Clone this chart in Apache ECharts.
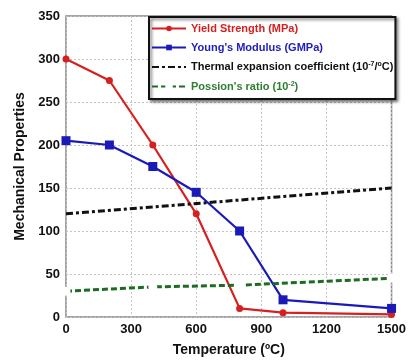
<!DOCTYPE html>
<html>
<head>
<meta charset="utf-8">
<script src="https://cdn.jsdelivr.net/npm/echarts@6/dist/echarts.min.js"></script>
<style>
  html, body { margin: 0; padding: 0; background: #fff; }
  #chart { width: 409px; height: 362px; }
</style>
</head>
<body>
<div id="chart"></div>
<script>
// Temperature (°C) at each measurement
const tempYield = [0, 200, 400, 600, 800, 1000, 1500];
const yieldStrength = [300, 275, 200, 120, 10, 5, 3];
const tempModulus = [0, 200, 400, 600, 800, 1000, 1500];
const youngsModulus = [205, 200, 175, 145, 100, 20, 10];
const tempThermal = [0, 1500];
const thermalExpansion = [120, 150];
const tempPoisson = [0, 400, 800, 1500];
const poissonRatio = [30, 35, 37, 45];

const names = [
  "Yield Strength (MPa)",
  "Young's Modulus (GMPa)",
  "Thermal expansion coefficient",
  "Possion's ratio"
];

const pairs = (xs, ys) => xs.map((x, i) => [x, ys[i]]);
const font = '"Liberation Sans", Arial, sans-serif';

const chart = echarts.init(document.getElementById('chart'), null, { renderer: 'canvas' });

chart.setOption({
  animation: false,
  textStyle: { fontFamily: font },
  grid: { left: 66, right: 10, top: 16, bottom: 40, show: true, borderColor: '#888', borderWidth: 1.5 },
  xAxis: {
    type: 'value', min: 0, max: 1500, interval: 300,
    name: 'Temperature (\u00BAC)', nameLocation: 'middle', nameGap: 26,
    nameTextStyle: { fontWeight: 'bold', fontSize: 14, color: '#111', fontFamily: font },
    axisLine: { show: false },
    axisTick: { show: false },
    axisLabel: { fontWeight: 'bold', fontSize: 13, color: '#111', margin: 6, fontFamily: font,
      formatter: v => String(v) },
    splitLine: { lineStyle: { type: [2, 2], color: '#c4c4c4', width: 1 } }
  },
  yAxis: {
    type: 'value', min: 0, max: 350, interval: 50,
    name: 'Mechanical Properties', nameLocation: 'middle', nameGap: 38,
    nameTextStyle: { fontWeight: 'bold', fontSize: 14, color: '#111', fontFamily: font },
    axisLine: { show: false },
    axisTick: { show: false },
    axisLabel: { fontWeight: 'bold', fontSize: 13, color: '#111', margin: 6, fontFamily: font,
      formatter: v => String(v) },
    splitLine: { lineStyle: { type: [2, 2], color: '#c4c4c4', width: 1 } }
  },
  legend: {
    orient: 'vertical', left: 149, top: 17,
    padding: [6, 2, 7, 2], itemGap: 8, itemWidth: 34, itemHeight: 7,
    backgroundColor: '#fff', borderColor: '#111', borderWidth: 2,
    shadowColor: 'rgba(0,0,0,0.5)', shadowBlur: 3, shadowOffsetX: 2, shadowOffsetY: 2,
    data: [
      { name: names[0] },
      { name: names[1] },
      { name: names[2], itemStyle: { color: 'rgba(0,0,0,0)', borderWidth: 0 } },
      { name: names[3], itemStyle: { color: '#fff', borderColor: '#777', borderWidth: 1.2 } }
    ],
    textStyle: {
      fontFamily: font, fontWeight: 'bold', fontSize: 11,
      rich: {
        r: { color: '#d62020', fontWeight: 'bold', fontSize: 11, fontFamily: font },
        b: { color: '#2020c0', fontWeight: 'bold', fontSize: 11, fontFamily: font },
        k: { color: '#111', fontWeight: 'bold', fontSize: 11, fontFamily: font },
        ks: { color: '#111', fontWeight: 'bold', fontSize: 7, fontFamily: font, verticalAlign: 'top', padding: [0, 0, 5, 0] },
        g: { color: '#2e7d32', fontWeight: 'bold', fontSize: 11, fontFamily: font },
        gs: { color: '#2e7d32', fontWeight: 'bold', fontSize: 7, fontFamily: font, verticalAlign: 'top', padding: [0, 0, 5, 0] }
      }
    },
    formatter: function (n) {
      if (n === names[0]) return '{r|' + n + '}';
      if (n === names[1]) return '{b|' + n + '}';
      if (n === names[2]) return '{k|' + n + ' (10}{ks|-7}{k|/}{ks|o}{k|C)}';
      return '{g|' + n + ' (10}{gs|-2}{g|)}';
    }
  },
  series: [
    {
      name: names[0], type: 'line', data: pairs(tempYield, yieldStrength),
      symbol: 'circle', symbolSize: 7,
      lineStyle: { color: '#d62020', width: 2.2 },
      itemStyle: { color: '#d62020' }
    },
    {
      name: names[1], type: 'line', data: pairs(tempModulus, youngsModulus),
      symbol: 'rect', symbolSize: 9,
      lineStyle: { color: '#1a1ab8', width: 2.2 },
      itemStyle: { color: '#1a1ab8' }
    },
    {
      name: names[2], type: 'line', data: pairs(tempThermal, thermalExpansion),
      symbol: 'none', showSymbol: false,
      lineStyle: { color: '#111', width: 3, type: [7, 3, 3, 3] },
      itemStyle: { color: '#111' }
    },
    {
      name: names[3], type: 'line', data: pairs(tempPoisson, poissonRatio),
      symbol: 'emptyCircle', symbolSize: 7,
      lineStyle: { color: '#1e6b24', width: 3, type: [6, 3] },
      itemStyle: { color: '#fff', borderColor: '#888', borderWidth: 1 }
    }
  ]
});
</script>
</body>
</html>
